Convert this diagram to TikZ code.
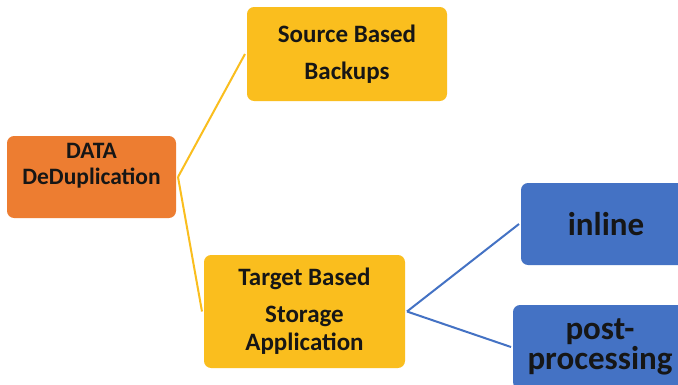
\documentclass[tikz,border=0pt]{standalone}
\usepackage{fontspec}
\setmainfont{Carlito}
\usetikzlibrary{positioning}
\definecolor{dedorange}{RGB}{237,125,49}
\definecolor{gold}{RGB}{250,190,30}
\definecolor{office}{RGB}{68,114,196}
\definecolor{ink}{RGB}{22,22,22}
\tikzset{
  box/.style={rounded corners=2.5mm, align=center, inner sep=2mm, outer sep=2pt, text=ink},
  root/.style={box, fill=dedorange, minimum width=169pt, minimum height=82pt, font=\bfseries\fontsize{23.5}{26}\selectfont},
  kind/.style={box, fill=gold, minimum width=200pt, font=\bfseries\fontsize{25}{37}\selectfont},
  mode/.style={box, fill=office, minimum height=82pt, font=\bfseries\fontsize{33}{30}\selectfont},
  goldline/.style={draw=gold, line width=2pt},
  blueline/.style={draw=office, line width=2pt}
}
\begin{document}
\begin{tikzpicture}[x=1pt,y=-1pt]
  \clip (0,0) rectangle (678,384);
  \fill[white] (0,0) rectangle (678,384);
  % tree of dedup methods
  \node[root, text depth=27pt] (ded) at (91.5,177) {DATA\\DeDuplication};
  \node[kind, minimum height=94pt] (src) at (347,54) {Source Based\\Backups};
  \node[kind, minimum width=201pt, minimum height=113pt, font=\bfseries\fontsize{25}{28}\selectfont]
    (tgt) at (304.5,311.5) {Target Based\\[9pt]Storage\\Application};
  \node[mode, minimum width=170pt] (inl) at (606,224) {inline};
  \node[mode, minimum width=174pt, minimum height=84pt] (post) at (600,347) {post-\\processing};
  % branches
  \draw[goldline] (ded.east) -- (src.west);
  \draw[goldline] (ded.east) -- (tgt.west);
  \draw[blueline] (tgt.east) -- (inl.west);
  \draw[blueline] (tgt.east) -- (post.west);
\end{tikzpicture}
\end{document}
